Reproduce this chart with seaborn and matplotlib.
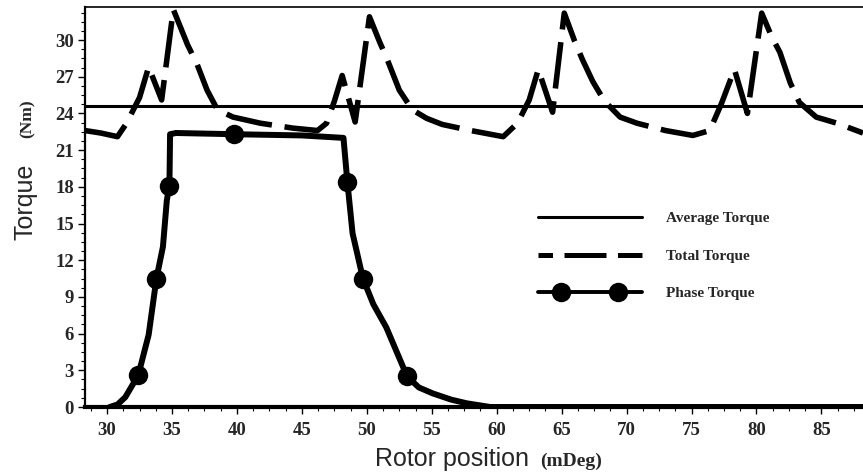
import numpy as np
import pandas as pd
import matplotlib
matplotlib.use("Agg")
import matplotlib.pyplot as plt
import seaborn as sns
from matplotlib.lines import Line2D
from matplotlib.legend_handler import HandlerLine2D, HandlerTuple
from matplotlib.ticker import MultipleLocator, AutoMinorLocator

# ---------------- data ----------------
total_x = [28.3, 29.5, 30.8, 31.5, 32.5, 33.2, 34.2, 35.1, 36.2, 36.9, 37.7, 38.5,
           39.7, 41.8, 44.3, 46.2, 46.9, 47.5, 48.1, 49.1, 50.2, 51.0, 51.5, 52.5,
           53.5, 54.6, 55.8, 58.0, 60.5, 61.6, 62.5, 63.2, 64.3, 65.2, 66.0, 66.6,
           67.4, 68.3, 69.5, 70.8, 73.0, 75.1, 76.4, 77.3, 78.3, 79.3, 80.4, 81.2,
           81.8, 82.6, 83.3, 84.6, 86.2, 88.2]
total_y = [22.6, 22.4, 22.1, 23.2, 25.3, 27.8, 25.1, 32.5, 29.6, 28.1, 25.9, 24.3,
           23.7, 23.2, 22.8, 22.6, 23.2, 25.0, 27.1, 23.3, 31.9, 29.8, 28.6, 25.9,
           24.3, 23.6, 23.1, 22.6, 22.1, 23.2, 25.1, 27.6, 24.1, 32.2, 29.9, 28.4,
           26.6, 25.0, 23.7, 23.2, 22.6, 22.2, 22.6, 24.8, 27.6, 24.0, 32.2, 30.2,
           29.0, 26.5, 24.9, 23.7, 23.2, 22.4]

phase_x = [30.2, 30.8, 31.4, 32.4, 33.2, 33.8, 34.3, 34.6, 34.8, 34.85, 35.3, 39.8,
           45.0, 48.2, 48.5, 48.9, 49.7, 50.5, 51.5, 52.3, 53.1, 54.0, 55.1, 56.5,
           57.7, 59.5, 88.2]
phase_y = [0.0, 0.2, 0.8, 2.6, 5.9, 10.5, 13.1, 16.9, 18.1, 22.3, 22.4, 22.3,
           22.2, 22.0, 18.4, 14.2, 10.5, 8.4, 6.5, 4.5, 2.5, 1.6, 1.1, 0.6,
           0.3, 0.0, 0.0]
phase_marker_idx = [3, 5, 8, 11, 14, 16, 20]

avg_torque = 24.6

x_ticks = [30, 35, 40, 45, 50, 55, 60, 65, 70, 75, 80, 85]
y_ticks = [0, 3, 6, 9, 12, 15, 18, 21, 24, 27, 30]
legend_labels = ["Average Torque", "Total Torque", "Phase Torque"]

# ---------------- figure ----------------
sns.set_theme(style="white")
plt.rcParams["font.family"] = ["Liberation Serif", "DejaVu Serif"]

fig = plt.figure(figsize=(8.63, 4.72), dpi=100)
ax = fig.add_axes([85 / 863, 1 - 407 / 472, 1 - 85 / 863, 400 / 472])

df_total = pd.DataFrame({"x": total_x, "y": total_y})
df_phase = pd.DataFrame({"x": phase_x, "y": phase_y})

ax.axhline(avg_torque, color="black", lw=2.2, zorder=3)

sns.lineplot(data=df_total, x="x", y="y", ax=ax, color="black", lw=4.0,
             sort=False, zorder=2)
tl = ax.get_lines()[-1]
tl.set_linestyle((0, (8.4, 2.3)))
tl.set_dash_joinstyle("round")

sns.lineplot(data=df_phase, x="x", y="y", ax=ax, color="black", lw=4.3,
             sort=False, zorder=4, marker="o", markersize=14,
             markevery=phase_marker_idx, markeredgewidth=0)
pl = ax.get_lines()[-1]
pl.set_solid_joinstyle("round")

ax.set_xlim(28.3, 88.2)
ax.set_ylim(0, 32.7)
ax.set_xticks(x_ticks)
ax.set_yticks(y_ticks)
ax.xaxis.set_minor_locator(MultipleLocator(1.25))
ax.yaxis.set_minor_locator(AutoMinorLocator(4))
ax.set_xlabel("")
ax.set_ylabel("")

ax.tick_params(axis="both", which="major", direction="out", length=5, width=1,
               color="black", labelsize=13.5, bottom=True, left=True)
ax.tick_params(axis="both", which="minor", direction="out", length=3, width=0.8,
               color="black", bottom=True, left=True)
ax.tick_params(axis="x", pad=6)
ax.tick_params(axis="y", pad=3)
for lab in ax.get_xticklabels() + ax.get_yticklabels():
    lab.set_fontweight("bold")

ax.spines["right"].set_visible(False)
ax.spines["top"].set_linewidth(1.2)
ax.spines["left"].set_linewidth(1.6)
ax.spines["bottom"].set_linewidth(3.0)
for s in ax.spines.values():
    s.set_color("black")

# axis labels (mixed fonts)
fig.text(375 / 863, 6 / 472, "Rotor position", family=["Liberation Sans"],
         fontsize=18, ha="left", va="baseline")
fig.text(540 / 863, 6 / 472, "(mDeg)", family=["Liberation Serif"],
         fontsize=14, fontweight="bold", ha="left", va="baseline")
fig.text(32 / 863, 1 - 240 / 472, "Torque", family=["Liberation Sans"],
         fontsize=18, rotation=90, rotation_mode="anchor", ha="left", va="baseline")
fig.text(32 / 863, 1 - 138 / 472, "(Nm)", family=["Liberation Serif"],
         fontsize=12.5, fontweight="bold", rotation=90, rotation_mode="anchor",
         ha="left", va="baseline")

# legend
hl = 7.4
h_avg = Line2D([], [], color="black", lw=2.2)
h_tot = Line2D([], [], color="black", lw=3.6, linestyle=(5.5, (8.4, 2.3)))
h_ph_line = Line2D([], [], color="black", lw=2.8)
h_ph_mark = Line2D([], [], color="none", lw=0, marker="o", markersize=14,
                   markerfacecolor="black", markeredgewidth=0)
leg = ax.legend([h_avg, h_tot, (h_ph_line, h_ph_mark)], legend_labels,
                loc="upper left", bbox_to_anchor=(0.576, 0.488), frameon=False,
                borderpad=0, borderaxespad=0, handlelength=hl, handletextpad=1.3,
                labelspacing=1.55, numpoints=2,
                prop={"family": "Liberation Serif", "weight": "bold", "size": 11},
                handler_map={h_ph_mark: HandlerLine2D(marker_pad=hl / 4, numpoints=2),
                             tuple: HandlerTuple(ndivide=1, pad=0)})

fig.savefig("out.png", dpi=100)
